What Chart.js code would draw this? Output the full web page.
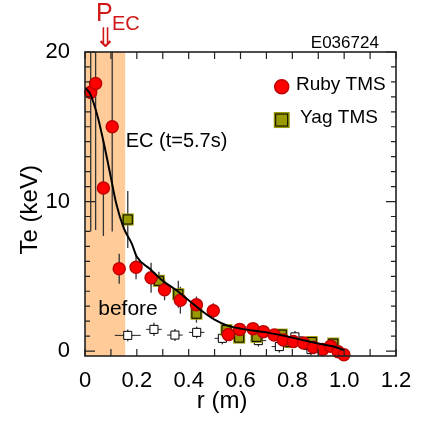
<!DOCTYPE html>
<html>
<head>
<meta charset="utf-8">
<script src="https://cdn.jsdelivr.net/npm/chart.js@4.4.1/dist/chart.umd.min.js"></script>
<style>
  html, body { margin: 0; padding: 0; background: #fff; }
  #wrap { width: 422px; height: 421px; }
</style>
</head>
<body>
<div id="wrap"><canvas id="teChart" width="422" height="421"></canvas></div>
<script>
// ============================================================
// DATA
// ============================================================
const rubyR   = [0.022, 0.041, 0.071, 0.105, 0.132, 0.197, 0.255, 0.307, 0.368, 0.430, 0.495, 0.553, 0.597, 0.648, 0.688, 0.730, 0.765, 0.804, 0.843, 0.881, 0.917, 0.948, 0.977, 0.999];
const rubyTe  = [17.3, 17.9, 10.9, 15.0, 5.5, 5.6, 4.9, 4.1, 3.4, 3.1, 2.7, 1.1, 1.45, 1.5, 1.3, 1.07, 0.74, 0.64, 0.54, 0.26, 0.11, 0.33, -0.05, -0.25];
const rubyErr = [9.3, 9.8, 3.2, 7.0, 1.0, 0.8, 1.0, 0.7, 0.9, 0.55, 0.5, 0.3, 0.3, 0.3, 0.3, 0.3, 0.3, 0.3, 0.3, 0.3, 0.3, 0.3, 0.3, 0.3];

const yagR   = [0.165, 0.285, 0.360, 0.430, 0.546, 0.595, 0.662, 0.759, 0.792, 0.875, 0.958];
const yagTe  = [8.8, 4.7, 3.8, 2.5, 1.4, 0.9, 0.95, 1.1, 0.6, 0.6, 0.5];
const yagErr = [1.9, 0.6, 0.9, 0.6, 0.4, 0.3, 0.3, 0.3, 0.3, 0.3, 0.3];

const beforeR     = [0.165, 0.266, 0.347, 0.431, 0.530, 0.669, 0.750, 0.810, 0.872];
const beforeTe    = [1.05, 1.45, 1.07, 1.25, 0.85, 0.70, 0.30, 0.95, 0.10];
const beforeErrR  = [0.05, 0.03, 0.03, 0.03, 0.03, 0.03, 0.03, 0.03, 0.03];
const beforeErrTe = [0.4, 0.45, 0.4, 0.4, 0.4, 0.4, 0.4, 0.4, 0.4];

// EC (t=5.7s) fitted profile
const fitR  = [0, 0.02, 0.05, 0.08, 0.10, 0.12, 0.15, 0.18, 0.20, 0.25, 0.30, 0.35, 0.40, 0.45, 0.50, 0.55, 0.60, 0.70, 0.80, 0.90, 0.96, 1.00];
const fitTe = [17.6, 17.2, 15.6, 13.3, 11.6, 9.9, 8.2, 7.2, 6.3, 5.5, 4.7, 4.1, 3.4, 2.7, 2.1, 1.7, 1.5, 1.25, 0.9, 0.5, 0.3, 0.05];

// EC deposition region
const ecBand = [0, 0.155];

// axes
const xTicks = [0, 0.1, 0.2, 0.3, 0.4, 0.5, 0.6, 0.7, 0.8, 0.9, 1.0, 1.1, 1.2];
const xTickLabels = ['0', '', '0.2', '', '0.4', '', '0.6', '', '0.8', '', '1.0', '', '1.2'];
const yTicks = [0, 1, 2, 3, 4, 5, 6, 7, 8, 9, 10, 11, 12, 13, 14, 15, 16, 17, 18, 19, 20];
const yTickLabels = ['0', '', '', '', '', '', '', '', '', '', '10', '', '', '', '', '', '', '', '', '', '20'];

const FONT = '"Liberation Sans", Arial, sans-serif';
const OLIVE = '#999900';

const pts = (xs, ys) => xs.map((x, i) => ({ x: x, y: ys[i] }));

// ============================================================
// PLUGIN: band, error bars, frame, inward ticks, annotations
// ============================================================
const decor = {
    id: 'decor',
    beforeDatasetsDraw(chart) {
        const { ctx, chartArea: a, scales: { x, y } } = chart;
        ctx.save();
        ctx.beginPath(); ctx.rect(a.left, a.top, a.right - a.left, a.bottom - a.top); ctx.clip();

        // EC band
        ctx.fillStyle = '#ffcc99';
        ctx.fillRect(x.getPixelForValue(ecBand[0]), a.top, x.getPixelForValue(ecBand[1]) - x.getPixelForValue(ecBand[0]), a.bottom - a.top);

        // vertical error bars
        ctx.strokeStyle = '#333'; ctx.lineWidth = 1.3;
        const vbar = (rs, ts, es) => rs.forEach((r, i) => {
            const px = x.getPixelForValue(r);
            ctx.beginPath();
            ctx.moveTo(px, y.getPixelForValue(ts[i] - es[i]));
            ctx.lineTo(px, y.getPixelForValue(ts[i] + es[i]));
            ctx.stroke();
        });
        vbar(beforeR, beforeTe, beforeErrTe);
        vbar(yagR, yagTe, yagErr);
        vbar(rubyR, rubyTe, rubyErr);

        // horizontal bars on "before"
        ctx.strokeStyle = '#222'; ctx.lineWidth = 1;
        beforeR.forEach((r, i) => {
            const py = y.getPixelForValue(beforeTe[i]);
            ctx.beginPath();
            ctx.moveTo(x.getPixelForValue(r - beforeErrR[i]), py);
            ctx.lineTo(x.getPixelForValue(r + beforeErrR[i]), py);
            ctx.stroke();
        });
        ctx.restore();
    },
    afterDatasetsDraw(chart) {
        const { ctx, chartArea: a, scales: { x, y } } = chart;
        ctx.save();

        // frame
        ctx.strokeStyle = '#222'; ctx.lineWidth = 1.6;
        ctx.strokeRect(a.left, a.top, a.right - a.left, a.bottom - a.top);

        // inward ticks
        ctx.lineWidth = 1.2;
        x.ticks.forEach(t => {
            const px = x.getPixelForValue(t.value);
            ctx.beginPath();
            ctx.moveTo(px, a.bottom); ctx.lineTo(px, a.bottom - 7);
            ctx.moveTo(px, a.top); ctx.lineTo(px, a.top + 7);
            ctx.stroke();
        });
        y.ticks.forEach((t, i) => {
            const py = y.getPixelForValue(t.value);
            const len = yTickLabels[i] ? 10 : 5;
            ctx.beginPath();
            ctx.moveTo(a.left, py); ctx.lineTo(a.left + len, py);
            ctx.moveTo(a.right, py); ctx.lineTo(a.right - len, py);
            ctx.stroke();
        });

        const txt = (s, r, te, size, color, align, family) => {
            ctx.font = size + 'px ' + (family || FONT);
            ctx.fillStyle = color; ctx.textAlign = align || 'left'; ctx.textBaseline = 'middle';
            ctx.fillText(s, x.getPixelForValue(r), y.getPixelForValue(te));
        };

        // annotations
        txt('EC (t=5.7s)', 0.157, 14.0, 20, '#000');
        txt('before', 0.051, 2.8, 21, '#000');
        txt('E036724', 1.134, 20.6, 17, '#000', 'right');
        txt('P', 0.042, 22.55, 25, '#d01818');
        txt('EC', 0.104, 21.84, 20, '#d01818');
        txt('\u21d3', 0.079, 20.8, 27, '#d01818', 'center', '"DejaVu Sans", sans-serif');

        // axis titles
        txt('r (m)', 0.529, -3.35, 24, '#000', 'center');
        ctx.save();
        ctx.translate(x.getPixelForValue(-0.212), y.getPixelForValue(9.45));
        ctx.rotate(-Math.PI / 2);
        ctx.font = '24px ' + FONT; ctx.fillStyle = '#000';
        ctx.textAlign = 'center'; ctx.textBaseline = 'middle';
        ctx.fillText('Te (keV)', 0, 0);
        ctx.restore();

        // legend
        const lx = x.getPixelForValue(0.759);
        let ly = y.getPixelForValue(17.68);
        ctx.beginPath(); ctx.arc(lx, ly, 7, 0, Math.PI * 2);
        ctx.fillStyle = '#ff0000'; ctx.fill();
        ctx.strokeStyle = '#c00000'; ctx.lineWidth = 1.5; ctx.stroke();
        txt('Ruby TMS', 0.814, 17.79, 19, '#000');

        ly = y.getPixelForValue(15.45);
        ctx.fillStyle = OLIVE; ctx.fillRect(lx - 8, ly - 8, 16, 16);
        ctx.strokeStyle = '#000'; ctx.lineWidth = 1; ctx.strokeRect(lx - 6, ly - 6, 12, 12);
        txt('Yag TMS', 0.83, 15.59, 19, '#000');

        ctx.restore();
    }
};

// ============================================================
// CHART
// ============================================================
const ctxTe = document.getElementById('teChart').getContext('2d');
const teChart = new Chart(ctxTe, {
    type: 'scatter',
    data: {
        datasets: [
            { label: 'EC (t=5.7s)', data: pts(fitR, fitTe), showLine: true, borderColor: '#000', borderWidth: 2,
              pointRadius: 0, cubicInterpolationMode: 'monotone', order: 0 },
            { label: 'Ruby TMS', data: pts(rubyR, rubyTe), pointStyle: 'circle', pointRadius: 6,
              backgroundColor: '#ff0000', borderColor: '#c00000', borderWidth: 1.5, order: 1, clip: false },
            { label: 'Yag TMS', data: pts(yagR, yagTe), pointStyle: 'rect', pointRadius: 6.4,
              backgroundColor: OLIVE, borderColor: '#000', borderWidth: 1, order: 2 },
            { label: 'Yag TMS halo', data: pts(yagR, yagTe), pointStyle: 'rect', pointRadius: 8.5,
              backgroundColor: OLIVE, borderWidth: 0, order: 3 },
            { label: 'before', data: pts(beforeR, beforeTe), pointStyle: 'rect', pointRadius: 5.7,
              backgroundColor: '#fff', borderColor: '#000', borderWidth: 1, order: 4 }
        ]
    },
    options: {
        responsive: false,
        animation: false,
        events: [],
        layout: { padding: { top: 52, right: 26, left: 0, bottom: 0 } },
        plugins: { legend: { display: false }, tooltip: { enabled: false } },
        scales: {
            x: {
                type: 'linear', min: 0, max: 1.2,
                afterBuildTicks: s => { s.ticks = xTicks.map(v => ({ value: v })); },
                afterFit: s => { s.height = 65; },
                grid: { display: false }, border: { display: false },
                ticks: { autoSkip: false, maxRotation: 0, padding: 4, color: '#000',
                         font: { family: FONT, size: 22 }, callback: (v, i) => xTickLabels[i] }
            },
            y: {
                type: 'linear', min: -0.33, max: 20,
                afterBuildTicks: s => { s.ticks = yTicks.map(v => ({ value: v })); },
                afterFit: s => { s.width = 85; },
                grid: { display: false }, border: { display: false },
                ticks: { autoSkip: false, padding: 7, color: '#000',
                         font: { family: FONT, size: 22 }, callback: (v, i) => yTickLabels[i] }
            }
        }
    },
    plugins: [decor]
});
</script>
</body>
</html>
